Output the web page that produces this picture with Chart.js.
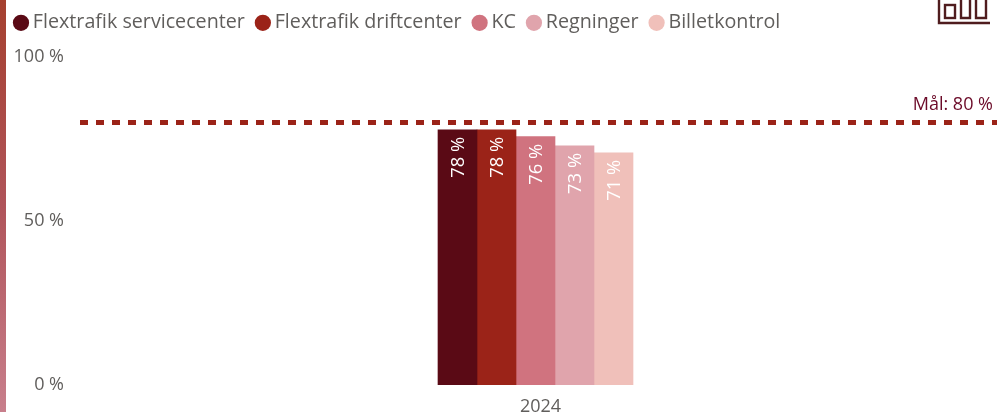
<!DOCTYPE html>
<html>
<head>
<meta charset="utf-8">
<script src="https://cdn.jsdelivr.net/npm/chart.js@4/dist/chart.umd.min.js"></script>
<style>
  html, body { margin: 0; padding: 0; background: #fff; overflow: hidden; }
  #wrap { position: relative; width: 997px; height: 412px; }
  #stripe { position: absolute; left: 0; top: 0; width: 6px; height: 412px;
    background: linear-gradient(to bottom, #a5402f 0%, #b0545a 50%, #c87f8c 100%); }
  #icon { position: absolute; left: 937px; top: 0; }
</style>
</head>
<body>
<div id="wrap">
  <canvas id="chart" width="997" height="412"></canvas>
  <div id="stripe"></div>
  <svg id="icon" width="54" height="25" fill="none" stroke="#4f1c1e" stroke-width="2.4">
    <path d="M2 0V23H53"/>
    <rect x="8" y="5" width="10" height="13"/>
    <path d="M24 0V18H33V0M39 0V18H49V0"/>
  </svg>
</div>
<script>
const categories = ['2024'];
const seriesNames = ['Flextrafik servicecenter', 'Flextrafik driftcenter', 'KC', 'Regninger', 'Billetkontrol'];
const seriesValues = [77.8, 77.8, 75.7, 72.9, 70.8];
const seriesColors = ['#5a0a15', '#9b2318', '#d0737f', '#e0a4ac', '#f0c0ba'];
const yTicks = [0, 50, 100];
const targetValue = 80;
const targetLabel = 'Mål: 80 %';

const fontName = '"Open Sans", "Noto Sans", sans-serif';

const extras = {
  id: 'extras',
  beforeInit(chart) {
    // legend takes fixed room so the plot starts at the same y as the original
    const fit = chart.legend.fit;
    chart.legend.fit = function () {
      fit.call(this);
      this.height = 60;
    };
  },
  afterDatasetsDraw(chart) {
    const ctx = chart.ctx;
    const y = chart.scales.y.getPixelForValue(targetValue);
    ctx.save();
    // target line
    ctx.strokeStyle = '#9b2318';
    ctx.lineWidth = 5;
    ctx.setLineDash([8, 8]);
    ctx.beginPath();
    ctx.moveTo(chart.chartArea.left + 6, y);
    ctx.lineTo(chart.chartArea.right, y);
    ctx.stroke();
    ctx.setLineDash([]);
    ctx.fillStyle = '#6b0a28';
    ctx.font = '18px ' + fontName;
    ctx.textAlign = 'right';
    ctx.textBaseline = 'middle';
    ctx.fillText(targetLabel, chart.chartArea.right - 4, y - 18);
    // value labels inside the bars
    ctx.fillStyle = '#fff';
    ctx.font = '18.4px ' + fontName;
    chart.data.datasets.forEach((ds, i) => {
      const bar = chart.getDatasetMeta(i).data[0];
      ctx.save();
      ctx.translate(bar.x + 1, bar.y + 7);
      ctx.rotate(-Math.PI / 2);
      ctx.textAlign = 'right';
      ctx.textBaseline = 'middle';
      ctx.fillText(Math.round(ds.data[0]) + ' %', 0, 0);
      ctx.restore();
    });
    ctx.restore();
  }
};

new Chart(document.getElementById('chart'), {
  type: 'bar',
  data: {
    labels: categories,
    datasets: seriesNames.map((name, i) => ({
      label: name,
      data: [seriesValues[i]],
      backgroundColor: seriesColors[i],
      barThickness: 39
    }))
  },
  options: {
    responsive: false,
    animation: false,
    layout: { padding: { left: 3, top: -3, right: 0, bottom: 0 } },
    plugins: {
      tooltip: { enabled: false },
      legend: {
        position: 'top',
        align: 'start',
        labels: {
          usePointStyle: true,
          pointStyle: 'circle',
          boxWidth: 4,
          boxHeight: 11.5,
          padding: 16,
          color: '#605e5c',
          font: { family: fontName, size: 19.7 }
        }
      }
    },
    scales: {
      x: {
        grid: { display: false },
        border: { display: false },
        afterFit(scale) { scale.height = 27; },
        ticks: { color: '#605e5c', labelOffset: 5, padding: 3, font: { family: fontName, size: 18 } }
      },
      y: {
        min: 0,
        max: 100,
        afterBuildTicks(scale) { scale.ticks = yTicks.map(v => ({ value: v })); },
        afterFit(scale) { scale.width = 71; },
        grid: { display: false, drawTicks: false },
        border: { display: false },
        ticks: {
          color: '#605e5c',
          padding: 10,
          font: { family: fontName, size: 18 },
          callback: v => v + ' %'
        }
      }
    }
  },
  plugins: [extras]
});
</script>
</body>
</html>
